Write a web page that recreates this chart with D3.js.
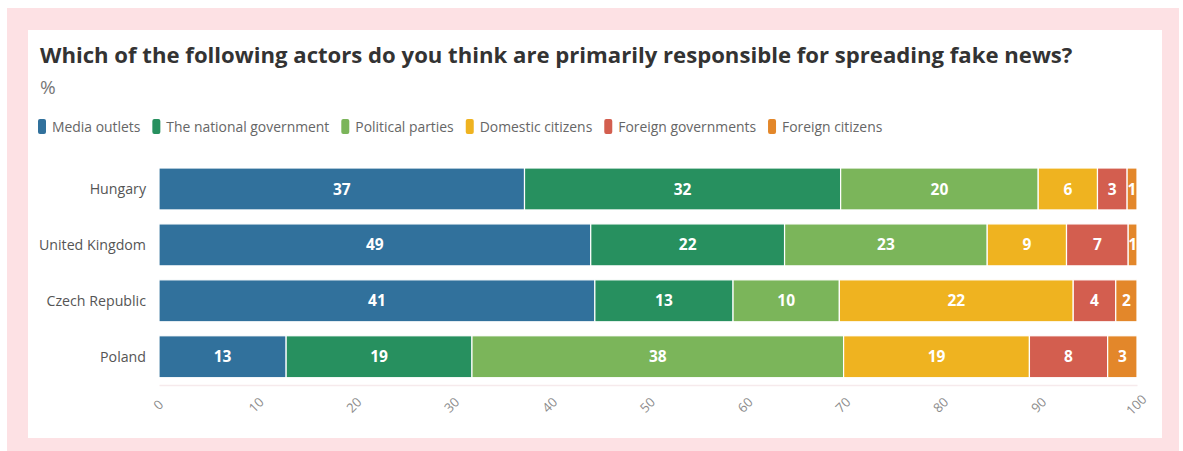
<!DOCTYPE html>
<html>
<head>
<meta charset="utf-8">
<script src="https://cdn.jsdelivr.net/npm/d3@7"></script>
<style>
  html, body { margin: 0; padding: 0; background: #ffffff; }
  svg { display: block; }
  text { font-family: "Open Sans", "Noto Sans", sans-serif; }
</style>
</head>
<body>
<svg id="chart" width="1183" height="451"></svg>
<script>
const countries = ["Hungary", "United Kingdom", "Czech Republic", "Poland"];
const seriesNames = ["Media outlets", "The national government", "Political parties", "Domestic citizens", "Foreign governments", "Foreign citizens"];
const mediaOutlets = [37, 49, 41, 13];
const nationalGovernment = [32, 22, 13, 19];
const politicalParties = [20, 23, 10, 38];
const domesticCitizens = [6, 9, 22, 19];
const foreignGovernments = [3, 7, 4, 8];
const foreignCitizens = [1, 1, 2, 3];
const tickValues = [0, 10, 20, 30, 40, 50, 60, 70, 80, 90, 100];
const colors = ["#31719c", "#27905f", "#7bb55a", "#efb320", "#d35e4f", "#e3872a"];

const seriesValues = [mediaOutlets, nationalGovernment, politicalParties, domesticCitizens, foreignGovernments, foreignCitizens];

const svg = d3.select("#chart");

// backgrounds
svg.append("rect").attr("x", 7).attr("y", 8).attr("width", 1172).attr("height", 443).attr("fill", "#fde1e4");
svg.append("rect").attr("x", 28).attr("y", 30).attr("width", 1134).attr("height", 408).attr("fill", "#ffffff");

// title
function fitText(sel, width) {
  const w = sel.node().getComputedTextLength();
  const fs = parseFloat(sel.attr("font-size"));
  sel.attr("font-size", (fs * width / w).toFixed(2));
}
const title = svg.append("text")
  .attr("x", 40).attr("y", 63)
  .attr("font-size", 20).attr("font-weight", 700).attr("fill", "#333333")
  .text("Which of the following actors do you think are primarily responsible for spreading fake news?");
fitText(title, 1033);

svg.append("text").attr("x", 40).attr("y", 94)
  .attr("font-size", 19).attr("fill", "#777777").text("%");

// legend
const legend = svg.append("g");
let lx = 38;
const legendFont = 13.9;
seriesNames.forEach((name, i) => {
  const g = legend.append("g").attr("transform", `translate(${lx},0)`);
  g.append("rect").attr("x", 0).attr("y", 119).attr("width", 8).attr("height", 15)
    .attr("rx", 2).attr("fill", colors[i]);
  const t = g.append("text").attr("x", 14).attr("y", 131.5)
    .attr("font-size", legendFont).attr("fill", "#666666").text(name);
  lx += 14 + t.node().getComputedTextLength() + 12;
});

// scales
const x = d3.scaleLinear().domain([0, 100]).range([159, 1137]);
const y = d3.scaleBand().domain(countries).range([168, 377.7]).paddingInner(0.25).paddingOuter(0);

// stacked data (normalized to 100%)
const rows = countries.map((c, ci) => {
  const row = { country: c };
  seriesNames.forEach((s, si) => { row[s] = seriesValues[si][ci]; });
  return row;
});
const stack = d3.stack().keys(seriesNames).offset(d3.stackOffsetExpand);
const stacked = stack(rows);

const barsG = svg.append("g");
stacked.forEach((layer, si) => {
  const g = barsG.append("g").attr("fill", colors[si]);
  g.selectAll("rect").data(layer).join("rect")
    .attr("x", d => x(d[0] * 100))
    .attr("y", d => y(d.data.country))
    .attr("width", d => x(d[1] * 100) - x(d[0] * 100))
    .attr("height", y.bandwidth())
    .attr("stroke", "#ffffff").attr("stroke-width", 1.2);
  g.selectAll("text").data(layer).join("text")
    .attr("x", d => (x(d[0] * 100) + x(d[1] * 100)) / 2)
    .attr("y", d => y(d.data.country) + y.bandwidth() / 2)
    .attr("dy", "0.36em")
    .attr("text-anchor", "middle")
    .attr("font-size", 15.5).attr("font-weight", 700).attr("fill", "#ffffff")
    .text(d => d.data[layer.key]);
});

// category labels
svg.append("g").selectAll("text").data(countries).join("text")
  .attr("x", 146)
  .attr("y", d => y(d) + y.bandwidth() / 2)
  .attr("dy", "0.35em")
  .attr("text-anchor", "end")
  .attr("font-size", 14.2).attr("fill", "#555555")
  .text(d => d);

// x axis
const axisG = svg.append("g").attr("transform", "translate(0,385)")
  .call(d3.axisBottom(x).tickValues(tickValues).tickSize(0).tickFormat(d3.format("d")));
axisG.select(".domain").attr("stroke", "#f6eaec").attr("stroke-width", 1.5);
axisG.selectAll(".tick text")
  .attr("y", 0).attr("dy", "0.35em")
  .attr("transform", "translate(-1,20) rotate(-45)")
  .attr("text-anchor", "middle")
  .attr("font-size", 13).attr("fill", "#8c8c8c")
  .attr("font-family", "\"Open Sans\", sans-serif");
</script>
</body>
</html>
